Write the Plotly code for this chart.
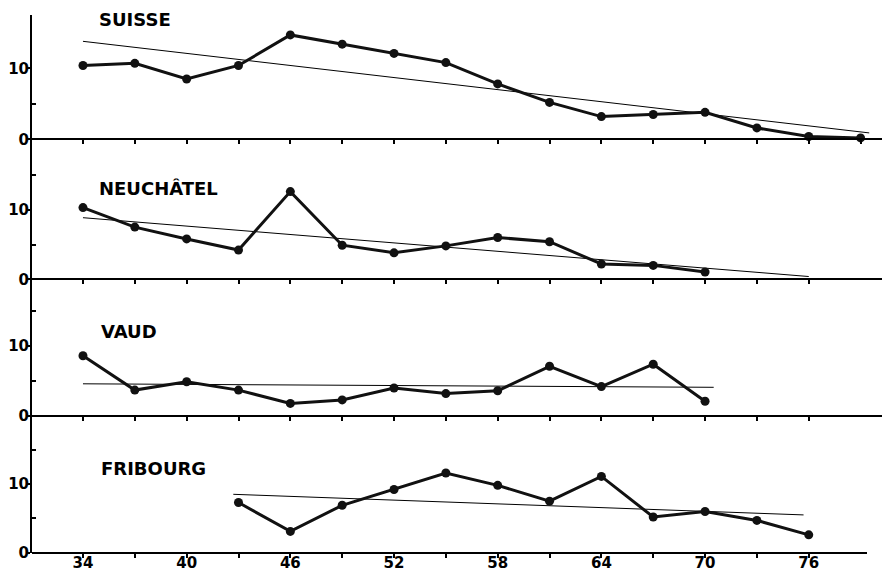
import plotly.graph_objects as go

# ---------------- data ----------------
years_all = [34, 37, 40, 43, 46, 49, 52, 55, 58, 61, 64, 67, 70, 73, 76, 79]

suisse_years = years_all
suisse_vals = [10.4, 10.7, 8.5, 10.4, 14.7, 13.4, 12.1, 10.8, 7.8, 5.2, 3.2, 3.5, 3.8, 1.6, 0.4, 0.2]

neuchatel_years = [34, 37, 40, 43, 46, 49, 52, 55, 58, 61, 64, 67, 70]
neuchatel_vals = [10.3, 7.5, 5.8, 4.2, 12.6, 4.9, 3.8, 4.8, 6.0, 5.4, 2.2, 2.0, 1.05]

vaud_years = [34, 37, 40, 43, 46, 49, 52, 55, 58, 61, 64, 67, 70]
vaud_vals = [8.6, 3.7, 4.9, 3.7, 1.8, 2.3, 4.0, 3.2, 3.6, 7.1, 4.2, 7.4, 2.1]

fribourg_years = [43, 46, 49, 52, 55, 58, 61, 64, 67, 70, 73, 76]
fribourg_vals = [7.3, 3.1, 6.9, 9.2, 11.6, 9.8, 7.5, 11.1, 5.2, 6.0, 4.7, 2.6]

# trend lines (start/end year, start/end value)
suisse_trend_x = [34, 79.5]
suisse_trend_y = [13.8, 0.9]
neuchatel_trend_x = [34, 76]
neuchatel_trend_y = [8.85, 0.4]
vaud_trend_x = [34, 70.5]
vaud_trend_y = [4.6, 4.1]
fribourg_trend_x = [42.7, 75.7]
fribourg_trend_y = [8.5, 5.5]

panel_names = ["SUISSE", "NEUCHÂTEL", "VAUD", "FRIBOURG"]

x_tickvals_long = [34, 37, 40, 43, 46, 49, 52, 55, 58, 61, 64, 67, 70, 73, 76, 79]
x_tickvals = [34, 37, 40, 43, 46, 49, 52, 55, 58, 61, 64, 67, 70, 73, 76]
x_ticklabels = ["34", "", "40", "", "46", "", "52", "", "58", "", "64", "", "70", "", "76"]

# ---------------- layout geometry ----------------
# The page places the figure 8px from the top-left corner (body margin),
# so the figure is made 8px smaller and positions are given in screen pixels.
OFF = 8
SCREEN_W, SCREEN_H = 890, 573
W, H = SCREEN_W - OFF, SCREEN_H - OFF
L_SCREEN = 32
L = L_SCREEN - OFF
PX_PER_YEAR = 17.28
X0 = 31.05


def py(screen_y):
    return 1 - (screen_y - OFF) / H


def px(screen_x):
    return (screen_x - L_SCREEN) / (W - L)


panels = [
    dict(name=panel_names[0], xs=suisse_years, ys=suisse_vals, tx=suisse_trend_x, ty=suisse_trend_y,
         top=15, bottom=149, zero=139.3, scale=7.1, xend=890, ticks=x_tickvals_long, minor=[5],
         title_x=97, title_y=20),
    dict(name=panel_names[1], xs=neuchatel_years, ys=neuchatel_vals, tx=neuchatel_trend_x, ty=neuchatel_trend_y,
         top=149, bottom=289, zero=279.3, scale=6.96, xend=890, ticks=x_tickvals, minor=[5, 15],
         title_x=97, title_y=188),
    dict(name=panel_names[2], xs=vaud_years, ys=vaud_vals, tx=vaud_trend_x, ty=vaud_trend_y,
         top=289, bottom=426, zero=416, scale=7.0, xend=882, ticks=x_tickvals, minor=[5, 15],
         title_x=99, title_y=331),
    dict(name=panel_names[3], xs=fribourg_years, ys=fribourg_vals, tx=fribourg_trend_x, ty=fribourg_trend_y,
         top=426, bottom=552.7, zero=552.7, scale=6.87, xend=867, ticks=x_tickvals, minor=[5, 15],
         title_x=99, title_y=468),
]

fig = go.Figure()
layout = dict(
    width=W, height=H,
    margin=dict(l=L, r=0, t=0, b=0),
    paper_bgcolor="white", plot_bgcolor="white",
    showlegend=False,
    annotations=[],
)

tick_font = dict(family="DejaVu Sans", size=15, color="black", weight="bold")

for i, p in enumerate(panels):
    n = "" if i == 0 else str(i + 1)
    xa, ya = "x" + n, "y" + n
    fig.add_trace(go.Scatter(x=p["tx"], y=p["ty"], mode="lines",
                             line=dict(color="black", width=1),
                             xaxis=xa, yaxis=ya, hoverinfo="skip"))
    fig.add_trace(go.Scatter(x=p["xs"], y=p["ys"], mode="lines+markers",
                             line=dict(color="#111111", width=3),
                             marker=dict(color="#111111", size=9),
                             xaxis=xa, yaxis=ya))
    dom_x_end = min(1.0, px(p["xend"]))
    x_range = [X0, X0 + (p["xend"] - L_SCREEN) / PX_PER_YEAR]
    y_dom = [py(p["bottom"]), py(p["top"])]
    y_range = [(p["zero"] - p["bottom"]) / p["scale"], (p["zero"] - p["top"]) / p["scale"]]
    last = i == len(panels) - 1
    layout["xaxis" + n] = dict(
        domain=[0, dom_x_end], range=x_range,
        anchor="free", position=py(p["zero"]),
        showline=True, linecolor="black", linewidth=2,
        showgrid=False, zeroline=False,
        tickmode="array", tickvals=p["ticks"],
        ticktext=x_ticklabels if last else [""] * len(p["ticks"]),
        showticklabels=last,
        ticks="outside", ticklen=4, tickwidth=2, tickcolor="black",
        tickfont=tick_font, automargin=False, ticklabelstandoff=-8,
    )
    layout["yaxis" + n] = dict(
        domain=y_dom, range=y_range, anchor=xa,
        showline=True, linecolor="black", linewidth=2,
        showgrid=False, zeroline=False,
        tickmode="array", tickvals=[0, 10], ticktext=["0", "10"],
        ticks="outside", ticklen=3, tickwidth=2, tickcolor="black",
        tickfont=tick_font, automargin=False, ticklabelstandoff=-5,
        minor=dict(tickvals=p["minor"], ticks="inside", ticklen=4, tickwidth=2,
                   tickcolor="black", showgrid=False),
    )
    layout["annotations"].append(dict(
        text=p["name"], xref="paper", yref="paper",
        x=px(p["title_x"]), y=py(p["title_y"]),
        xanchor="left", yanchor="middle", showarrow=False,
        font=dict(family="DejaVu Sans", size=18, color="black", weight="bold"),
    ))

fig.update_layout(**layout)
fig.write_html("out.html")
